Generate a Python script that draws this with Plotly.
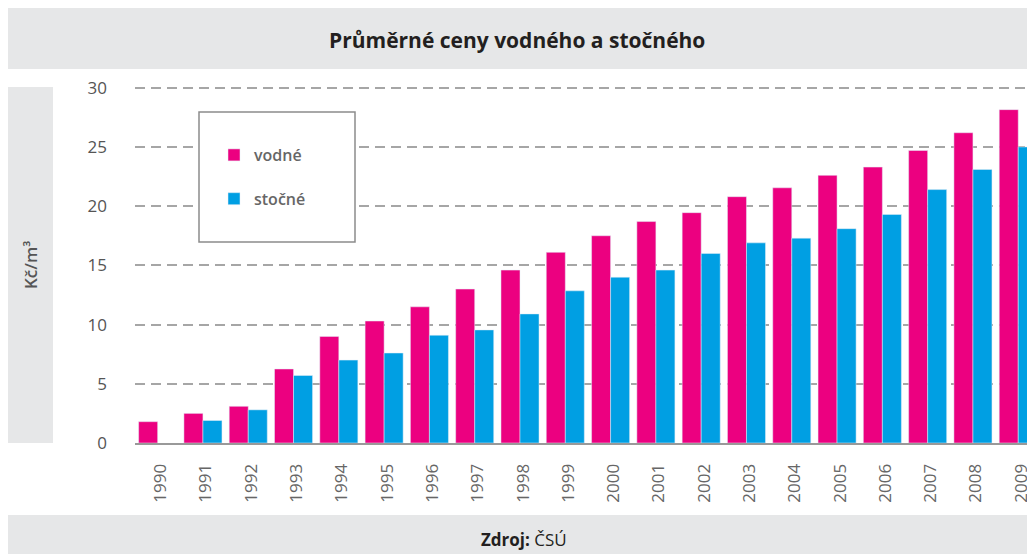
import plotly.graph_objects as go

years = [str(y) for y in range(1990, 2010)]
vodne = [1.8, 2.5, 3.1, 6.25, 9.0, 10.3, 11.5, 13.0, 14.6, 16.1,
         17.5, 18.7, 19.45, 20.8, 21.55, 22.6, 23.3, 24.7, 26.2, 28.15]
stocne = [None, 1.9, 2.8, 5.7, 7.0, 7.6, 9.1, 9.55, 10.9, 12.85,
          14.0, 14.6, 16.0, 16.9, 17.3, 18.1, 19.3, 21.4, 23.1, 25.0]
y_ticks = [0, 5, 10, 15, 20, 25, 30]

PINK = "#EC0080"
BLUE = "#009FE3"
BAND = "#E6E7E8"
FONT = "Open Sans"

# the page shows the figure offset by the body margin
OFF = 8
W, H = 1035 - OFF, 554 - OFF
L, T = 135 - OFF, 83 - OFF
PLOT_BOTTOM = 443 - OFF
R, B = 0, H - PLOT_BOTTOM
PW, PH = W - L - R, H - T - B


def px(x):
    """window x pixel -> paper x"""
    return (x - OFF - L) / PW


def py(y):
    """window y pixel -> paper y"""
    return (PLOT_BOTTOM - (y - OFF)) / PH


fig = go.Figure()
fig.add_trace(go.Bar(x=years, y=vodne, name="vodné", marker_color=PINK,
                     legendgroup="a"))
fig.add_trace(go.Bar(x=years, y=stocne, name="stočné", marker_color=BLUE,
                     legendgroup="b"))

shapes = [
    dict(type="rect", xref="paper", yref="paper", x0=px(4), x1=px(1040),
         y0=py(69), y1=py(0), fillcolor=BAND, line_width=0, layer="below"),
    dict(type="rect", xref="paper", yref="paper", x0=px(4), x1=px(1040),
         y0=py(560), y1=py(515), fillcolor=BAND, line_width=0, layer="below"),
    dict(type="rect", xref="paper", yref="paper", x0=px(8), x1=px(53),
         y0=py(443), y1=py(87), fillcolor=BAND, line_width=0, layer="below"),
    dict(type="rect", xref="paper", yref="paper", x0=px(199), x1=px(355),
         y0=py(242), y1=py(112), fillcolor="white",
         line=dict(color="#8C8C8C", width=1.5), layer="above"),
]

annotations = [
    dict(text="<b>Průměrné ceny vodného a stočného</b>", xref="paper",
         yref="paper", x=px(517), y=py(40), showarrow=False,
         font=dict(family=FONT, size=21, color="#231F20"),
         xanchor="center", yanchor="middle"),
    dict(text="<b>Zdroj:</b> ČSÚ", xref="paper", yref="paper", x=px(524),
         y=py(539), showarrow=False,
         font=dict(family=FONT, size=17, color="#231F20"),
         xanchor="center", yanchor="middle"),
    dict(text="Kč/m³", xref="paper", yref="paper", x=px(30),
         y=py(265), showarrow=False, textangle=-90,
         font=dict(family=FONT, size=17, color="#555555", weight=600),
         xanchor="center", yanchor="middle"),
]

fig.update_layout(
    width=W, height=H,
    margin=dict(l=L, r=R, t=T, b=B, pad=0, autoexpand=False),
    paper_bgcolor="white", plot_bgcolor="white",
    barmode="group", bargap=0.16, bargroupgap=0,
    font=dict(family=FONT, color="#666666"),
    shapes=shapes, annotations=annotations,
    showlegend=True,
    legend=dict(xref="container", yref="container", x=(214 - OFF) / W,
                y=1 - (138 - OFF) / H, xanchor="left", yanchor="top",
                bgcolor="rgba(0,0,0,0)", borderwidth=0,
                traceorder="grouped", tracegroupgap=20,
                font=dict(family=FONT, size=16, color="#666666", weight=600)),
    xaxis=dict(type="category", range=[-0.5, 19.37], tickangle=-90,
               showgrid=False, showline=True, linecolor="#999999",
               linewidth=2, ticks="", ticklabelstandoff=12,
               ticklabelshift=3, automargin=False,
               tickfont=dict(family=FONT, size=17, color="#666666")),
    yaxis=dict(range=[0, 30.4], tickvals=y_ticks, showgrid=True,
               gridcolor="#A6A6A6", gridwidth=1.5, griddash="10px,6px",
               zeroline=False, showline=False, ticks="",
               ticklabelstandoff=27, automargin=False,
               tickfont=dict(family=FONT, size=17, color="#555555")),
)

fig.write_html("out.html")
